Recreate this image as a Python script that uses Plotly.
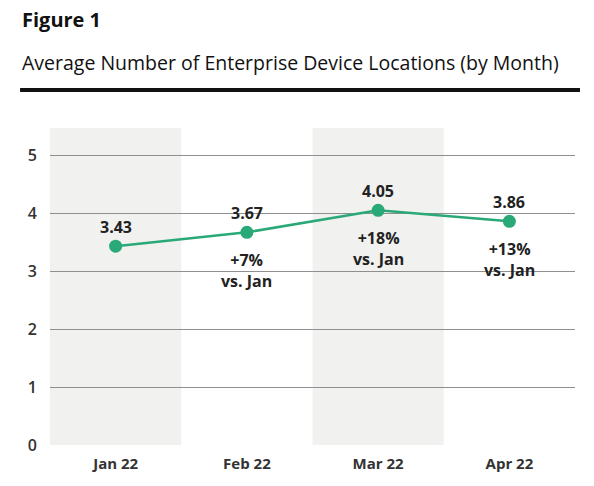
import plotly.graph_objects as go

# data
months = ["Jan 22", "Feb 22", "Mar 22", "Apr 22"]
avg_locations = [3.43, 3.67, 4.05, 3.86]
value_labels = ["3.43", "3.67", "4.05", "3.86"]
change_labels = ["", "+7%<br>vs. Jan", "+18%<br>vs. Jan", "+13%<br>vs. Jan"]
shaded_months = ["Jan 22", "Mar 22"]
y_ticks = [0, 1, 2, 3, 4, 5]

GREEN = "#2aa978"
FONT = "Open Sans"

fig = go.Figure()

fig.add_trace(go.Scatter(
    x=months, y=avg_locations,
    mode="lines+markers",
    line=dict(color=GREEN, width=2.5),
    marker=dict(color=GREEN, size=13),
    hoverinfo="skip",
))

# value labels above the points, % change below
for m, v, lab, chg in zip(months, avg_locations, value_labels, change_labels):
    fig.add_annotation(x=m, y=v, text="<b>%s</b>" % lab, showarrow=False,
                       yshift=19, font=dict(family=FONT, size=16, color="#222"))
    if chg:
        fig.add_annotation(x=m, y=v, text="<b>%s</b>" % chg, showarrow=False,
                           yshift=-38, font=dict(family=FONT, size=16, color="#222"))

# light grey column bands
for m in shaded_months:
    i = months.index(m)
    fig.add_shape(type="rect", xref="x", yref="paper", x0=i - 0.5, x1=i + 0.5,
                  y0=0, y1=1, fillcolor="#f1f1ef", line_width=0, layer="below")

# heading
fig.add_annotation(xref="paper", yref="paper", x=-0.057, y=1.341, xanchor="left",
                   yanchor="middle", showarrow=False, text="<b>Figure 1</b>",
                   font=dict(family=FONT, size=20, color="#111"))
fig.add_annotation(xref="paper", yref="paper", x=-0.057, y=1.208, xanchor="left",
                   yanchor="middle", showarrow=False,
                   text="Average Number of Enterprise Device Locations (by Month)",
                   font=dict(family=FONT, size=19.5, color="#111"))
fig.add_shape(type="line", xref="paper", yref="paper", x0=-0.057, x1=1.0095,
              y0=1.12, y1=1.12, line=dict(color="#111", width=4))

fig.update_layout(
    width=594, height=486,
    margin=dict(l=50, r=19, t=128, b=41),
    plot_bgcolor="white", paper_bgcolor="white",
    showlegend=False,
    font=dict(family=FONT, color="#333"),
    xaxis=dict(range=[-0.5, 3.5], showgrid=False, zeroline=False, showline=False,
               ticks="", tickfont=dict(family=FONT, size=15, color="#333", weight=700),
               ticklabelstandoff=8, fixedrange=True),
    yaxis=dict(range=[0, 5.47], tickvals=y_ticks, showgrid=True, gridcolor="#8f8f8f",
               gridwidth=1.4, zeroline=False, showline=False, ticks="",
               tickfont=dict(family=FONT, size=16, color="#333", weight=600),
               ticklabelstandoff=12, fixedrange=True),
)

# page body has an 8px default margin, drop it so the figure sits at 0,0
fig.write_html("out.html", config={"displayModeBar": False},
               post_script="document.body.style.margin='0';")
